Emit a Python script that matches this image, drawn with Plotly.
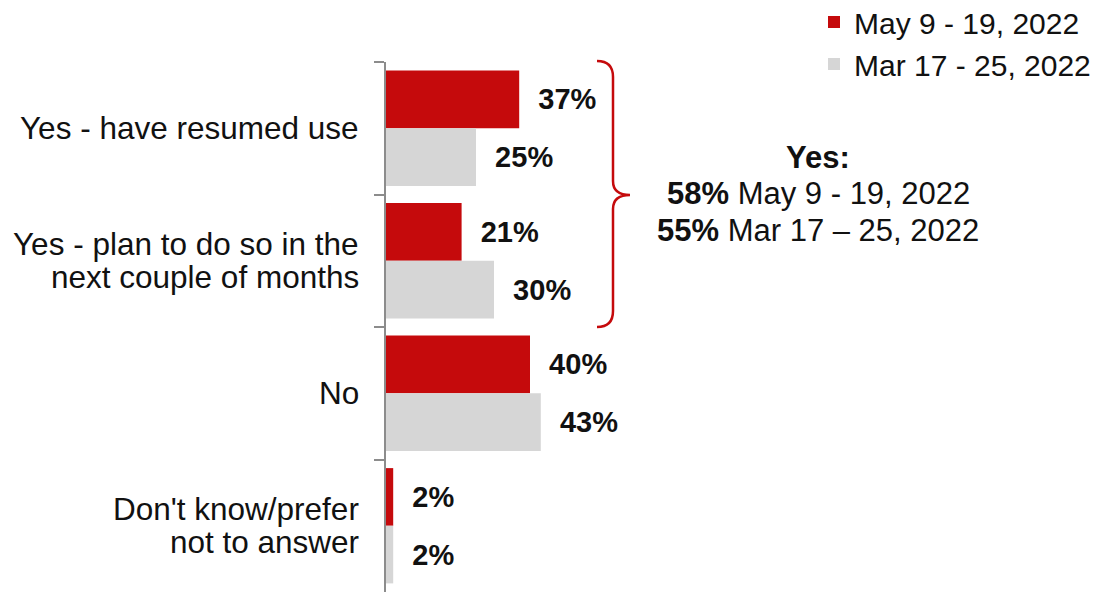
import plotly.graph_objects as go

categories = ['Yes - have resumed use',
              'Yes - plan to do so in the<br>next couple of months',
              'No',
              "Don't know/prefer<br>not to answer"]
series_names = ['May 9 - 19, 2022', 'Mar 17 - 25, 2022']
may_values = [37, 21, 40, 2]
mar_values = [25, 30, 43, 2]
yes_totals = [58, 55]
yes_periods = ['May 9 - 19, 2022', 'Mar 17 \u2013 25, 2022']

RED = '#c50a0c'
GREY = '#d6d6d6'
FONT = 'Arial, Liberation Sans, sans-serif'

# the page body adds an 8px margin, so the figure is a bit smaller
OFF = 8
W, H = 1103 - OFF, 592 - OFF
ML, MT = 386 - OFF, 62 - OFF
PW, PH = W - ML, H - MT
PX_PER_PCT = 3.6


def px(xs):
    # screen x -> paper x
    return (xs - OFF - ML) / PW


def py(ys):
    # screen y -> paper y
    return (H - (ys - OFF)) / PH


fig = go.Figure()
for name, vals, col in [(series_names[0], may_values, RED),
                        (series_names[1], mar_values, GREY)]:
    fig.add_trace(go.Bar(
        y=categories, x=vals, name=name, orientation='h',
        marker=dict(color=col, line=dict(width=0)),
        text=['\u00a0\u00a0' + f'{v}%' for v in vals],
        textposition='outside', constraintext='none', cliponaxis=False,
        textfont=dict(family=FONT, size=29, color='#111111'),
        texttemplate='<b>%{text}</b>',
        legendgroup=name,
    ))

# category labels, one line at a time to keep tight line spacing
for cat in categories:
    lines = cat.split('<br>')
    n = len(lines)
    for i, ln in enumerate(lines):
        fig.add_annotation(
            x=0, xref='paper', y=cat, yref='y',
            xanchor='right', yanchor='middle', xshift=-25,
            yshift=((n - 1) / 2 - i) * 33,
            text=ln, showarrow=False,
            font=dict(family=FONT, size=31.5, color='#111111'))

# brace over the two "Yes" rows
brace = (f'M {px(597)},{py(61)} Q {px(613)},{py(61)} {px(613)},{py(77)} '
         f'L {px(613)},{py(181)} Q {px(613)},{py(195)} {px(630)},{py(195)} '
         f'Q {px(613)},{py(195)} {px(613)},{py(209)} '
         f'L {px(613)},{py(311)} Q {px(613)},{py(327)} {px(597)},{py(327)}')
fig.add_shape(type='path', path=brace, xref='paper', yref='paper',
              line=dict(color=RED, width=2.5))

fig.add_annotation(x=px(818), y=py(158), xref='paper', yref='paper',
                   xanchor='center', yanchor='middle',
                   text='<b>Yes:</b>', showarrow=False,
                   font=dict(family=FONT, size=31, color='#111111'))
for yy, tot, per in zip([194, 230], yes_totals, yes_periods):
    fig.add_annotation(x=px(818), y=py(yy), xref='paper', yref='paper',
                       xanchor='center', yanchor='middle',
                       text=f'<b>{tot}%</b> {per}', showarrow=False,
                       font=dict(family=FONT, size=31, color='#111111'))

fig.update_layout(
    width=W, height=H,
    margin=dict(l=ML, r=0, t=MT, b=0, pad=0, autoexpand=False),
    paper_bgcolor='white', plot_bgcolor='white',
    barmode='group', bargap=0.13, bargroupgap=0,
    showlegend=True,
    legend=dict(x=px(814), y=py(-4), xanchor='left', yanchor='top',
                traceorder='normal', tracegroupgap=9,
                font=dict(family=FONT, size=30, color='#111111'),
                bgcolor='rgba(0,0,0,0)'),
    xaxis=dict(range=[0, PW / PX_PER_PCT], visible=False, showgrid=False,
               zeroline=False, fixedrange=True),
    yaxis=dict(autorange='reversed', showline=True, linecolor='#8c8c8c',
               linewidth=1.5, ticks='outside', tickson='boundaries',
               ticklen=10, tickcolor='#8c8c8c', tickwidth=1.5,
               showticklabels=False, showgrid=False, zeroline=False),
)

fig.write_html('out.html')
